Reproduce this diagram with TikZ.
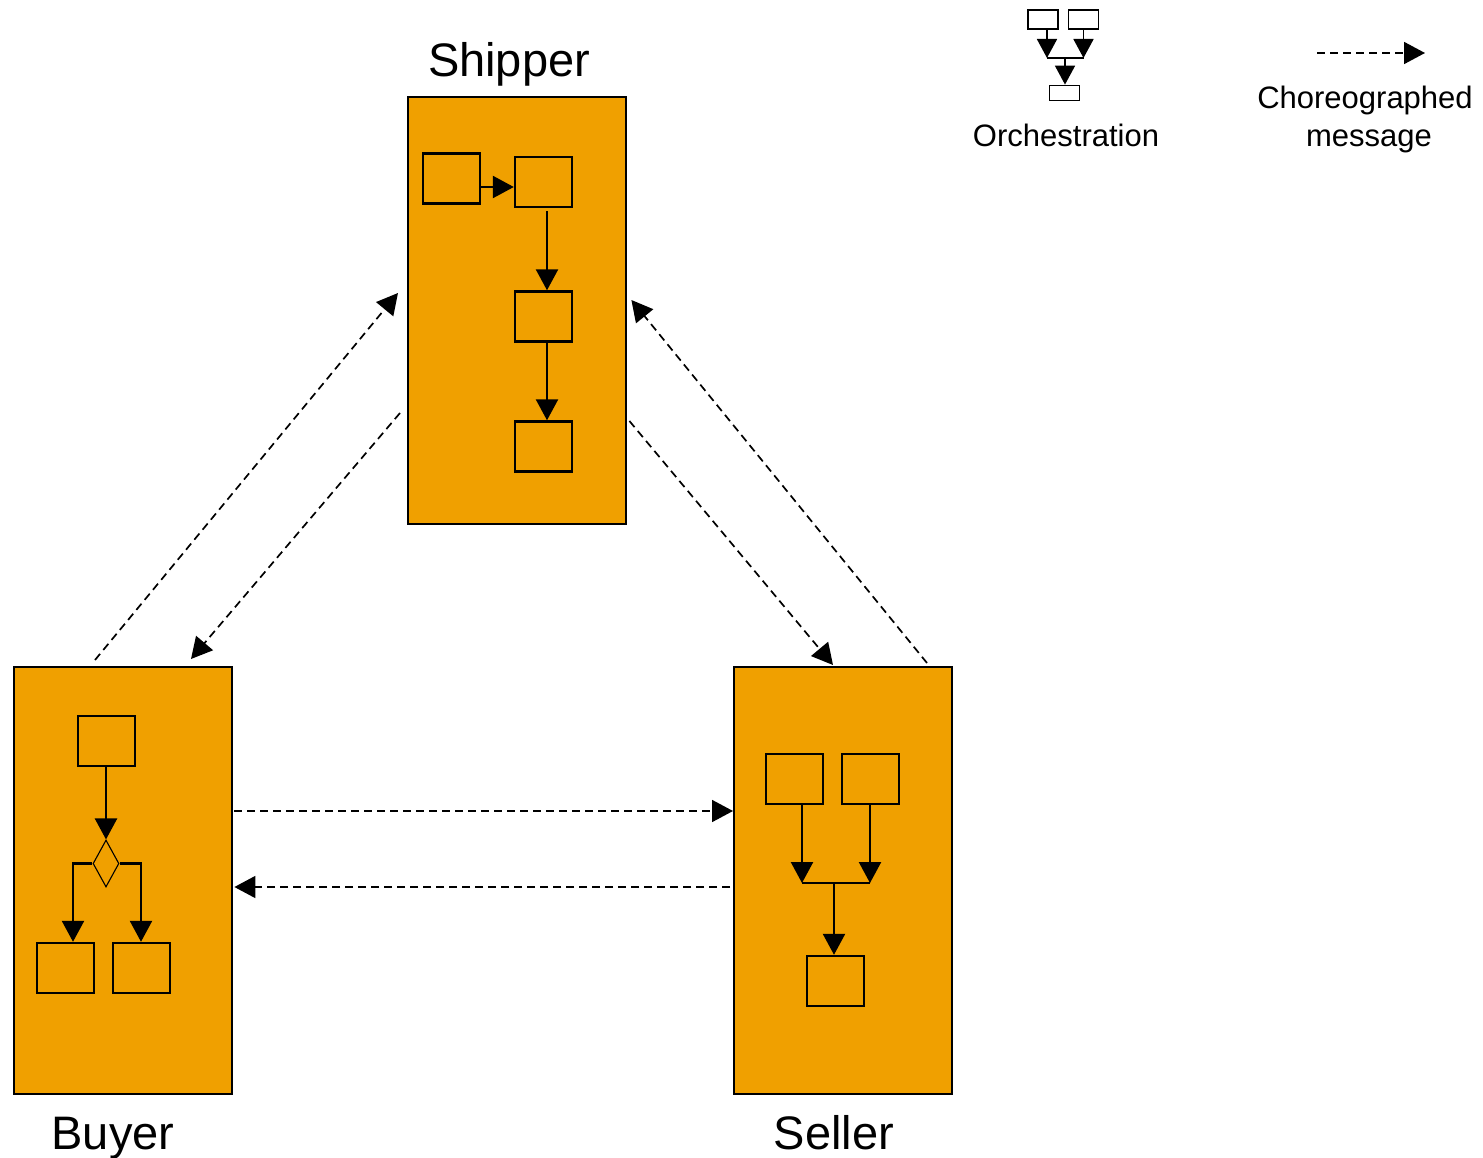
\documentclass[tikz,border=0pt]{standalone}
\usepackage{fontspec}
\setmainfont{Liberation Sans}
\usetikzlibrary{arrows.meta,shapes.geometric}
\definecolor{lane}{RGB}{240,160,0}

\begin{document}
\begin{tikzpicture}[x=1pt,y=-1pt,
  party/.style={draw=black, fill=lane, line width=2.4pt, minimum width=218pt,
    minimum height=427pt, inner sep=0pt, anchor=north west},
  task/.style={draw=black, line width=2.4pt, minimum width=57pt,
    minimum height=50pt, inner sep=0pt},
  mini/.style={draw=black, line width=1.8pt, minimum width=30pt,
    minimum height=19pt, inner sep=0pt},
  flow/.style={line width=2.4pt, -{Triangle[length=21pt,width=22pt]}},
  lflow/.style={line width=1.8pt, -{Triangle[length=19pt,width=20pt]}},
  mergeline/.style={line width=2.4pt},
  msg/.style={line width=1.7pt, dash pattern=on 8pt off 5pt,
    -{Triangle[length=21pt,width=22pt]}},
  title/.style={font=\fontsize{47}{56}\selectfont, anchor=base, inner sep=0pt},
  caption/.style={font=\fontsize{31}{37}\selectfont, anchor=base, inner sep=0pt}
]
\useasboundingbox (0,0) rectangle (1483,1158);

% participants
\node[party] (shipper) at (407,96) {};
\node[party] (buyer) at (13,666) {};
\node[party] (seller) at (733,666) {};

\node[title] (shipperlbl) at (509,77) {Shipper};
\node[title] (buyerlbl) at (113,1149) {Buyer};
\node[title] (sellerlbl) at (834,1149) {Seller};

% shipper process: sequence
\node[task] (s1) at (451.5,178.5) {};
\node[task] (s2) at (543.5,182) {};
\node[task] (s3) at (543.5,316.5) {};
\node[task] (s4) at (543.5,446.5) {};
\draw[flow] ([yshift=-8.5pt]s1.east) -- ([yshift=-8.5pt]s1.east -| s2.west);
\draw[flow] ([xshift=3.5pt,yshift=-3pt]s2.south) -- ([xshift=3.5pt]s3.north);
\draw[flow] ([xshift=3.5pt]s3.south) -- ([xshift=3.5pt]s4.north);

% buyer process: exclusive split
\node[task] (b1) at (106.5,741) {};
\node[diamond, draw=black, line width=1.1pt, minimum width=26pt,
  minimum height=47pt, inner sep=0pt] (dia) at (106,863.5) {};
\node[task] (b2) at (65.5,968) {};
\node[task] (b3) at (141.5,968) {};
\draw[flow] (dia.north |- b1.south) -- (dia.north);
\draw[flow] (dia.west) -| ([xshift=7.5pt]b2.north);
\draw[flow] (dia.east) -| ([xshift=-0.5pt]b3.north);

% seller process: merge
\node[task] (e1) at (794.5,779) {};
\node[task] (e2) at (870.5,779) {};
\node[task] (e3) at (835.5,981) {};
\coordinate (ej) at (834,883);
\draw[flow] ([xshift=7.5pt]e1.south) -- ([xshift=7.5pt]e1.south |- ej);
\draw[flow] ([xshift=-0.5pt]e2.south) -- ([xshift=-0.5pt]e2.south |- ej);
\draw[mergeline] ([xshift=7.5pt]e1.south |- ej) -- ([xshift=-0.5pt]e2.south |- ej);
\draw[flow] (ej) -- (ej |- e3.north);

% choreographed messages
\draw[msg] ([shift={(82,-6)}]buyer.north west) -- ([shift={(-9,197)}]shipper.north west);
\draw[msg] ([shift={(-7,317)}]shipper.north west) -- ([shift={(178,-7)}]buyer.north west);
\draw[msg] ([shift={(2,325)}]shipper.north east) -- ([shift={(100,-1)}]seller.north west);
\draw[msg] ([shift={(194,-3)}]seller.north west) -- ([shift={(4,204)}]shipper.north east);
\draw[msg] ([shift={(1,145)}]buyer.north east) -- ([shift={(0,145)}]seller.north west);
\draw[msg] ([shift={(-3,221)}]seller.north west) -- ([shift={(1,221)}]buyer.north east);

% legend: orchestration
\node[mini] (la) at (1043,19.5) {};
\node[mini] (lb) at (1083.5,19.5) {};
\node[mini, minimum height=15pt] (lc) at (1064.5,93) {};
\coordinate (lj) at (1065,58);
\draw[lflow] ([xshift=4pt]la.south) -- ([xshift=4pt]la.south |- lj);
\draw[lflow] (lb.south) -- (lb.south |- lj);
\draw[line width=1.8pt] ([xshift=4pt]la.south |- lj) -- (lb.south |- lj);
\draw[lflow] (lj) -- (lj |- lc.north);
\node[caption] (orchlbl) at (1066,147) {Orchestration};

% legend: choreographed message
\coordinate (ca) at (1317,53);
\coordinate (cb) at (1425,53);
\draw[msg] (ca) -- (cb);
\node[caption] (chorlbl1) at (1365,109) {Choreographed};
\node[caption] (chorlbl2) at (1369,147) {message};
\end{tikzpicture}
\end{document}
